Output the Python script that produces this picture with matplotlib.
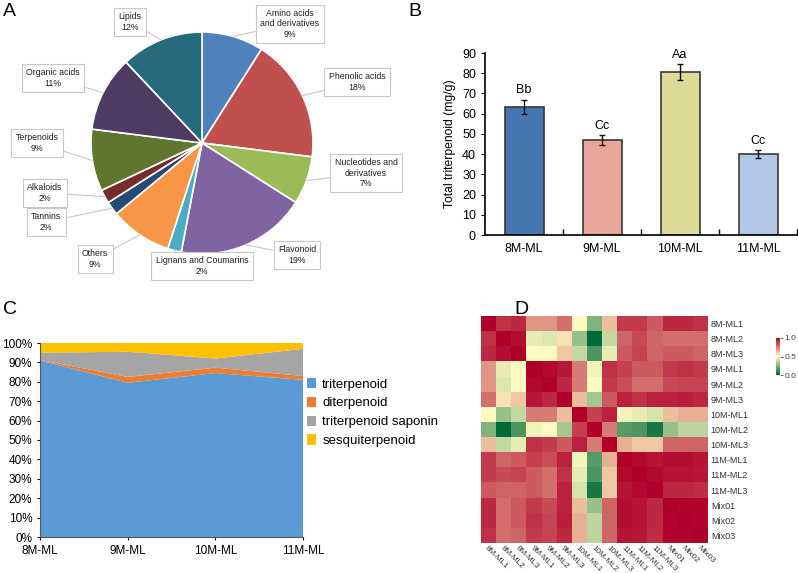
import numpy as np
import matplotlib
matplotlib.use("Agg")
import matplotlib.pyplot as plt
from matplotlib.colors import LinearSegmentedColormap

plt.rcParams['font.family'] = ['Liberation Sans', 'DejaVu Sans']

# ---- data ----
# A: metabolite classes
pie_labels = ["Amino acids\nand derivatives", "Phenolic acids", "Nucleotides and\nderivatives",
              "Flavonoid", "Lignans and Coumarins", "Others", "Tannins", "Alkaloids",
              "Terpenoids", "Organic acids", "Lipids"]
pie_values = [9, 18, 7, 19, 2, 9, 2, 2, 9, 11, 12]
pie_colors = ["#4f81bd", "#c0504d", "#9bbb59", "#8064a2", "#4bacc6", "#f79646",
              "#254a74", "#772c2a", "#5f7530", "#4d3b62", "#276a7c"]

# B: total triterpenoid
groups = ["8M-ML", "9M-ML", "10M-ML", "11M-ML"]
trit_mean = [63.5, 47.0, 80.5, 40.0]
trit_err = [3.5, 2.5, 4.0, 1.8]
sig_letters = ["Bb", "Cc", "Aa", "Cc"]
bar_colors = ["#4677b0", "#eaa59a", "#dedb97", "#b2c6e6"]

# C: composition (%)
comp_names = ["triterpenoid", "diterpenoid", "triterpenoid saponin", "sesquiterpenoid"]
triterpenoid = [91.0, 79.5, 84.5, 81.0]
diterpenoid = [0.3, 3.0, 2.8, 2.0]
saponin = [3.7, 13.0, 4.7, 14.0]
sesquiterpenoid = [5.0, 4.5, 8.0, 3.0]
comp_colors = ["#5b9bd5", "#ed7d31", "#a5a5a5", "#ffc000"]

# D: correlation
samples = ["8M-ML1", "8M-ML2", "8M-ML3", "9M-ML1", "9M-ML2", "9M-ML3",
           "10M-ML1", "10M-ML2", "10M-ML3", "11M-ML1", "11M-ML2", "11M-ML3",
           "Mix01", "Mix02", "Mix03"]
corr = [
    [1.00, 0.90, 0.92, 0.70, 0.70, 0.78, 0.50, 0.25, 0.62, 0.88, 0.88, 0.82, 0.92, 0.92, 0.90],
    [0.90, 1.00, 0.97, 0.45, 0.43, 0.55, 0.30, 0.00, 0.38, 0.80, 0.85, 0.80, 0.78, 0.78, 0.78],
    [0.92, 0.97, 1.00, 0.50, 0.50, 0.60, 0.38, 0.15, 0.45, 0.82, 0.86, 0.80, 0.82, 0.82, 0.80],
    [0.70, 0.45, 0.50, 1.00, 0.98, 0.95, 0.75, 0.48, 0.90, 0.87, 0.82, 0.82, 0.88, 0.90, 0.88],
    [0.70, 0.43, 0.50, 0.98, 1.00, 0.92, 0.75, 0.50, 0.88, 0.84, 0.78, 0.78, 0.85, 0.86, 0.86],
    [0.78, 0.55, 0.60, 0.95, 0.92, 1.00, 0.62, 0.32, 0.82, 0.93, 0.90, 0.93, 0.93, 0.94, 0.92],
    [0.50, 0.30, 0.38, 0.75, 0.75, 0.62, 1.00, 0.87, 0.93, 0.48, 0.45, 0.42, 0.62, 0.65, 0.65],
    [0.25, 0.00, 0.15, 0.48, 0.50, 0.32, 0.87, 1.00, 0.75, 0.17, 0.15, 0.05, 0.30, 0.37, 0.37],
    [0.62, 0.38, 0.45, 0.90, 0.88, 0.82, 0.93, 0.75, 1.00, 0.65, 0.60, 0.60, 0.80, 0.80, 0.80],
    [0.88, 0.80, 0.82, 0.87, 0.84, 0.93, 0.48, 0.17, 0.65, 1.00, 0.98, 0.96, 0.97, 0.97, 0.96],
    [0.88, 0.85, 0.86, 0.82, 0.78, 0.90, 0.45, 0.15, 0.60, 0.98, 1.00, 0.98, 0.96, 0.96, 0.95],
    [0.82, 0.80, 0.80, 0.82, 0.78, 0.93, 0.42, 0.05, 0.60, 0.96, 0.98, 1.00, 0.92, 0.92, 0.91],
    [0.92, 0.78, 0.82, 0.88, 0.85, 0.93, 0.62, 0.30, 0.80, 0.97, 0.96, 0.92, 1.00, 0.99, 0.99],
    [0.92, 0.78, 0.82, 0.90, 0.86, 0.94, 0.65, 0.37, 0.80, 0.97, 0.96, 0.92, 0.99, 1.00, 0.99],
    [0.90, 0.78, 0.80, 0.88, 0.86, 0.92, 0.65, 0.37, 0.80, 0.96, 0.95, 0.91, 0.99, 0.99, 1.00],
]

W, H = 798, 573
fig = plt.figure(figsize=(W / 100, H / 100), dpi=100)


def px_axes(x0, y0, x1, y1):
    # pixel box (top-left origin) -> figure axes
    return fig.add_axes([x0 / W, (H - y1) / H, (x1 - x0) / W, (y1 - y0) / H])


# ---- A: pie ----
axA = px_axes(0, 0, 400, 290)
cx, cy, r = 202, 290 - 143, 111
axA.pie(pie_values, colors=pie_colors, startangle=90, counterclock=False,
        center=(cx, cy), radius=r, frame=True,
        wedgeprops=dict(edgecolor="white", linewidth=1.2))
axA.set_xlim(0, 400)
axA.set_ylim(0, 290)
axA.axis("off")
# label box centres (pixels)
label_pos = [(290, 24), (357, 82), (366, 173), (297, 255), (202, 266), (95, 259),
             (46, 222), (45, 193), (37, 143), (53, 78), (130, 22)]
cum = np.cumsum(pie_values)
for lab, v, c, pos in zip(pie_labels, pie_values, cum, label_pos):
    ang = np.deg2rad(90 - 360 * (c - v / 2) / sum(pie_values))
    pt = (cx + r * np.cos(ang), cy + r * np.sin(ang))
    axA.annotate(f"{lab}\n{v}%", xy=pt, xytext=(pos[0], 290 - pos[1]),
                 ha="center", va="center", fontsize=6.3, color="#222222",
                 bbox=dict(boxstyle="square,pad=0.5", fc="white", ec="#c8c8c8", lw=0.8),
                 arrowprops=dict(arrowstyle="-", color="#c8c8c8", lw=0.8,
                                 shrinkA=0, shrinkB=0))

# ---- B: bars ----
axB = px_axes(485, 53, 797, 235)
x = np.arange(len(groups))
axB.bar(x, trit_mean, width=0.5, color=bar_colors, edgecolor="#383838", linewidth=1.2)
axB.errorbar(x, trit_mean, yerr=trit_err, fmt="none", ecolor="#111111",
             elinewidth=1, capsize=2.5, capthick=1)
for xi, m, e, s in zip(x, trit_mean, trit_err, sig_letters):
    axB.text(xi, m + e + 1.5, s, ha="center", va="bottom", fontsize=9)
axB.set_xlim(-0.5, 3.5)
axB.set_ylim(0, 90)
axB.set_yticks(range(0, 91, 10))
axB.set_xticks(x)
axB.set_xticklabels(groups, fontsize=9)
axB.set_xticks(x + 0.5, minor=True)
axB.tick_params(axis="x", which="major", length=0, pad=6)
axB.tick_params(axis="x", which="minor", direction="in", length=4, width=1)
axB.tick_params(axis="y", direction="out", length=3, labelsize=9)
axB.set_ylabel("Total triterpenoid (mg/g)", fontsize=8.7)
for sp in ["top", "right"]:
    axB.spines[sp].set_visible(False)
for sp in ["left", "bottom"]:
    axB.spines[sp].set_linewidth(1.2)

# ---- C: stacked area ----
axC = px_axes(40, 343, 303, 537)
axC.stackplot(x, triterpenoid, diterpenoid, saponin, sesquiterpenoid,
              colors=comp_colors, labels=comp_names, linewidth=0)
axC.set_xlim(0, 3)
axC.set_ylim(0, 100)
axC.set_yticks(range(0, 101, 10))
axC.set_yticklabels([f"{v}%" for v in range(0, 101, 10)], fontsize=8.5)
axC.set_xticks(x)
axC.set_xticklabels(groups, fontsize=8.5)
axC.tick_params(axis="both", length=2, width=0.8)
for sp in ["top", "right"]:
    axC.spines[sp].set_visible(False)
for sp in ["left", "bottom"]:
    axC.spines[sp].set_color("#555555")
axC.legend(loc="upper left", bbox_to_anchor=(307 / W, (H - 378) / H),
           bbox_transform=fig.transFigure, frameon=False, fontsize=9.5,
           handlelength=0.7, handleheight=0.8, handletextpad=0.45, labelspacing=0.47,
           borderpad=0, borderaxespad=0)

# ---- D: heatmap ----
axD = px_axes(481, 316, 708, 543)
cmap = LinearSegmentedColormap.from_list("gyr", ["#006a38", "#fffbc2", "#b0002a"])
im = axD.imshow(np.array(corr), cmap=cmap, vmin=0, vmax=1, aspect="auto",
                interpolation="nearest")
axD.set_xticks(range(len(samples)))
axD.set_yticks(range(len(samples)))
axD.set_xticklabels(samples, rotation=-45, ha="left", va="top",
                    rotation_mode="anchor", fontsize=5.9, color="#333333")
axD.set_yticklabels(samples, fontsize=6.5, color="#333333")
axD.yaxis.tick_right()
axD.tick_params(axis="x", length=0, pad=1)
axD.tick_params(axis="y", length=0, pad=2)
for sp in axD.spines.values():
    sp.set_visible(False)

cax = px_axes(776, 338, 780, 375)
cb = fig.colorbar(im, cax=cax, ticks=[0, 0.5, 1.0])
cb.ax.set_yticklabels(["0.0", "0.5", "1.0"])
cb.ax.tick_params(labelsize=6, length=2, width=0.6, color="#555555", labelcolor="#444444", pad=1)
cb.outline.set_visible(False)

# panel letters
for lab, px, py in [("A", 3, 16), ("B", 408, 16), ("C", 3, 314), ("D", 514, 314)]:
    fig.text(px / W, 1 - py / H, lab, fontsize=14, ha="left", va="baseline")

fig.savefig("out.png", dpi=100)
